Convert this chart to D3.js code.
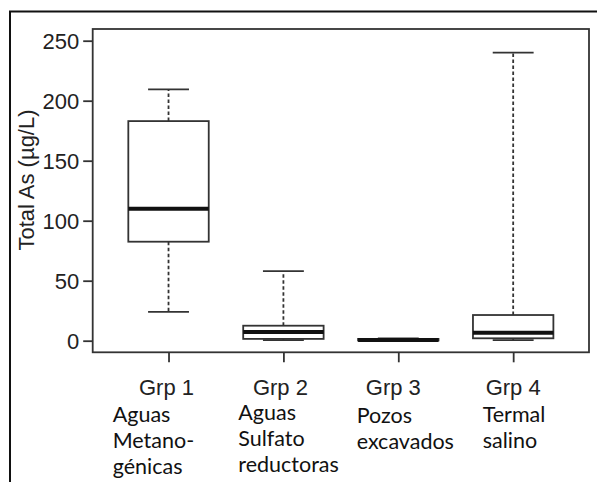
<!DOCTYPE html>
<html><head><meta charset="utf-8">
<script src="https://cdn.jsdelivr.net/npm/d3@7"></script>
<style>html,body{margin:0;padding:0;background:#fff;}svg{display:block;}</style>
</head><body>
<script>
const groups = ["Grp 1", "Grp 2", "Grp 3", "Grp 4"];
const subLabels = [["Aguas", "Metano-", "génicas"], ["Aguas", "Sulfato", "reductoras"], ["Pozos", "excavados"], ["Termal", "salino"]];
const whiskerLow = [24, 0.4, 0, 0.5];
const q1 = [82.5, 1.5, 0.2, 2];
const median = [110, 7.3, 0.6, 6.7];
const q3 = [183, 12.5, 1.5, 21.4];
const whiskerHigh = [209.5, 58, 2, 240];
const yTicks = [0, 50, 100, 150, 200, 250];
const yLabel = "Total As (µg/L)";

const W = 597, H = 482;
const svg = d3.select("body").append("svg").attr("width", W).attr("height", H);
const plot = {left: 92.7, right: 589, top: 29, bottom: 352.3};
const x = d3.scaleLinear().domain([0.34, 4.66]).range([plot.left, plot.right]);
const y = d3.scaleLinear().domain([0, 250]).range([340.7, 40.7]);
const ink = "#222";
const arial = "Liberation Sans, Arial, sans-serif";

// outer frame (left and top lines)
svg.append("path").attr("d", `M10,482 V11.5 H597`).attr("fill", "none").attr("stroke", "#111").attr("stroke-width", 2);

// plot box
svg.append("rect").attr("x", plot.left).attr("y", plot.top)
  .attr("width", plot.right - plot.left).attr("height", plot.bottom - plot.top)
  .attr("fill", "none").attr("stroke", "#333").attr("stroke-width", 1.8);

// y axis
const yAxis = d3.axisLeft(y).tickValues(yTicks).tickSize(9.5).tickPadding(4).tickFormat(d3.format("d"));
const gy = svg.append("g").attr("transform", `translate(${plot.left},0)`).call(yAxis);
gy.select(".domain").remove();
gy.selectAll(".tick line").attr("stroke", "#333").attr("stroke-width", 1.8);
gy.selectAll(".tick text").attr("font-family", arial).attr("font-size", 22).attr("fill", ink).attr("dy", "0.36em");

// x axis ticks
const xAxis = d3.axisBottom(x).tickValues([1, 2, 3, 4]).tickSize(10).tickFormat("");
const gx = svg.append("g").attr("transform", `translate(0,${plot.bottom})`).call(xAxis);
gx.select(".domain").remove();
gx.selectAll(".tick line").attr("stroke", "#333").attr("stroke-width", 1.8);

// y label
svg.append("text").attr("transform", `translate(34,180) rotate(-90)`)
  .attr("text-anchor", "middle").attr("font-family", arial).attr("font-size", 22)
  .attr("fill", ink).text(yLabel);

// boxes
const halfBox = 0.35, halfCap = 0.178;
groups.forEach((g, i) => {
  const c = i + 1;
  const gb = svg.append("g");
  gb.append("line").attr("x1", x(c)).attr("x2", x(c)).attr("y1", y(q3[i])).attr("y2", y(whiskerHigh[i]))
    .attr("stroke", "#333").attr("stroke-width", 1.8).attr("stroke-dasharray", "3.5,2.5");
  gb.append("line").attr("x1", x(c)).attr("x2", x(c)).attr("y1", y(q1[i])).attr("y2", y(whiskerLow[i]))
    .attr("stroke", "#333").attr("stroke-width", 1.8).attr("stroke-dasharray", "3.5,2.5");
  [whiskerHigh[i], whiskerLow[i]].forEach(v => {
    gb.append("line").attr("x1", x(c - halfCap)).attr("x2", x(c + halfCap)).attr("y1", y(v)).attr("y2", y(v))
      .attr("stroke", "#333").attr("stroke-width", 1.8);
  });
  gb.append("rect").attr("x", x(c - halfBox)).attr("width", x(c + halfBox) - x(c - halfBox))
    .attr("y", y(q3[i])).attr("height", y(q1[i]) - y(q3[i]))
    .attr("fill", "#fff").attr("stroke", "#333").attr("stroke-width", 1.8);
  gb.append("line").attr("x1", x(c - halfBox)).attr("x2", x(c + halfBox)).attr("y1", y(median[i])).attr("y2", y(median[i]))
    .attr("stroke", "#111").attr("stroke-width", 4);
});

// group labels
const grpDx = [-2, -3, -5, 0];
groups.forEach((g, i) => {
  svg.append("text").attr("x", x(i + 1) + grpDx[i]).attr("y", 395).attr("text-anchor", "middle")
    .attr("font-family", arial).attr("font-size", 22).attr("fill", ink).text(g);
});

// sub labels
const subX = [112.7, 238.3, 356.7, 482.7];
const subY = [421.7, 420, 423, 421.7];
subLabels.forEach((lines, i) => {
  const t = svg.append("text").attr("font-family", "Lato, 'Open Sans', sans-serif").attr("font-size", 21.5).attr("fill", "#111");
  lines.forEach((ln, j) => {
    t.append("tspan").attr("x", subX[i]).attr("y", subY[i] + j * 26).text(ln);
  });
});
</script>
</body></html>
